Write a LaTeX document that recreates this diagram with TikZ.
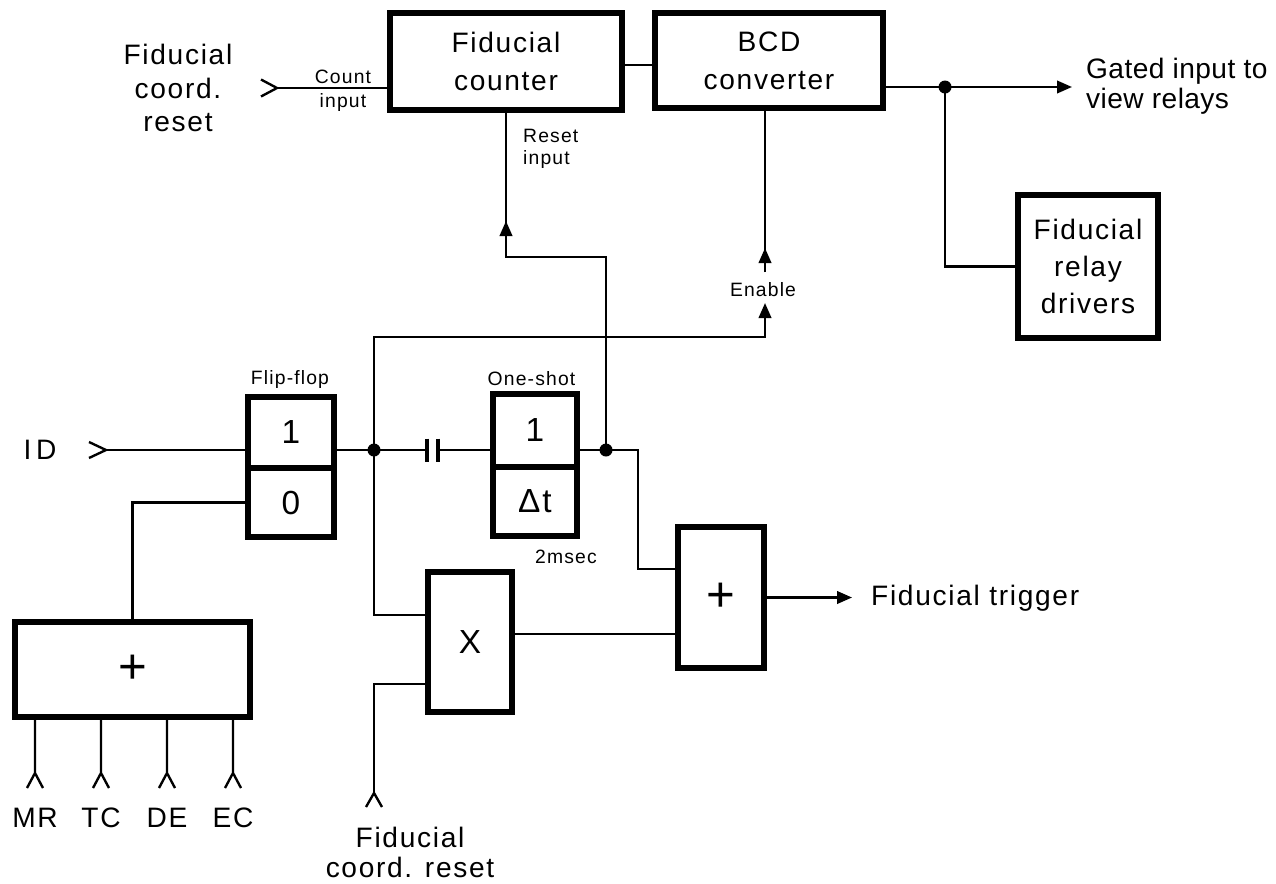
\documentclass[tikz,border=0pt]{standalone}
\usepackage{fontspec}
\setmainfont{Liberation Sans}[LetterSpace=6]
\usetikzlibrary{arrows.meta,positioning,calc}

\begin{document}
\begin{tikzpicture}[
      box/.style={rectangle,draw,line width=2.9pt,outer sep=0pt,inner sep=2pt,
                  align=center,font=\fontsize{16}{21.5}\selectfont},
      cell/.style={box,font=\fontsize{19}{19}\selectfont},
      wire/.style={line width=1.35pt},
      arr/.style={wire,-{Triangle[width=0.25cm,length=0.3cm]}},
      big/.style={align=center,font=\fontsize{16}{19}\selectfont},
      small/.style={align=center,font=\fontsize{11}{13}\selectfont}]
    \useasboundingbox (0,0) rectangle (25.52,-17.66);

    % counter chain on top
    \node[box,minimum width=4.64cm,minimum height=1.94cm] (cnt) at (10.12,-1.23) {Fiducial\\counter};
    \node[box,minimum width=4.56cm,minimum height=1.90cm] (bcd) at (15.38,-1.21) {BCD\\converter};
    \node[box,minimum width=2.80cm,minimum height=2.86cm,font=\fontsize{16}{21}\selectfont] (drv) at (21.76,-5.33) {Fiducial\\relay\\drivers};

    % flip-flop and one-shot
    \node[cell,minimum width=1.72cm,minimum height=1.42cm] (ff1) at (5.82,-8.65) {1};
    \node[cell,minimum width=1.72cm,minimum height=1.38cm,below=0pt of ff1] (ff0) {0};
    \node[cell,minimum width=1.68cm,minimum height=1.46cm] (os1) at (10.70,-8.61) {1};
    \node[cell,minimum width=1.68cm,minimum height=1.38cm,below=0pt of os1] (osd) {Δt};

    % gates
    \node[cell,minimum width=4.70cm,minimum height=1.90cm,font=\fontsize{28}{28}\selectfont] (orb) at (2.65,-13.39) {+};
    \node[cell,minimum width=1.68cm,minimum height=2.80cm] (xg) at (9.40,-12.84) {X};
    \node[cell,minimum width=1.72cm,minimum height=2.82cm,font=\fontsize{28}{28}\selectfont] (trig) at (14.42,-11.95) {+};

    % labels
    \node[big,font=\fontsize{16}{19}\selectfont] (fcl) at (3.56,-1.76) {Fiducial\\coord.\\reset};
    \node[small,font=\fontsize{11}{13.6}\selectfont] (cntl) at (6.86,-1.82) {Count\\input};
    \node[small,align=left,anchor=west,font=\fontsize{11}{12.5}\selectfont] (rsl) at (10.34,-2.98) {Reset\\input};
    \node[small] (enl) at (15.26,-5.80) {Enable};
    \node[small] (ffl) at (5.80,-7.58) {Flip-flop};
    \node[small] (osl) at (10.63,-7.58) {One-shot};
    \node[small] (msl) at (11.32,-11.14) {2msec};
    \node[big] (idl) at (0.80,-9.0) {I\,D};
    \node[big,align=left,anchor=west,font=\fontsize{16}{17}\selectfont\addfontfeature{LetterSpace=1.5}] (gtl) at (21.60,-1.72) {Gated input to\\view relays};
    \node[big,anchor=west] (trl) at (17.30,-11.96) {Fiducial trigger};
    \node[big,font=\fontsize{16}{17}\selectfont] (fcb) at (8.20,-17.04) {Fiducial\\coord. reset};

    % junctions and loose ends
    \coordinate (cin) at (5.54,-1.76);
    \coordinate (gd) at (18.90,-1.74);
    \coordinate (gout) at (21.44,-1.74);
    \coordinate (rs) at (10.12,-5.14);
    \coordinate (en) at (15.30,-5.44);
    \coordinate (ent) at (15.30,-6.06);
    \coordinate (enb) at (15.30,-6.74);
    \coordinate (idin) at (2.12,-9.0);
    \coordinate (fj) at (7.48,-9.0);
    \coordinate (c1) at (8.54,-9.0);
    \coordinate (c2) at (8.76,-9.0);
    \coordinate (oj) at (12.12,-9.0);
    \coordinate (tk) at (12.76,-11.38);
    \coordinate (tout) at (17.04,-11.95);
    \coordinate (fcr) at (7.48,-15.86);

    % top row
    \draw[wire] (cin) -- (cin -| cnt.west);
    \draw[wire] (cin) -- ++(-0.32,0.17) (cin) -- ++(-0.32,-0.17);
    \draw[wire] ([yshift=-0.07cm]cnt.east) -- ([yshift=-0.07cm]cnt.east -| bcd.west);
    \draw[wire] (gd -| bcd.east) -- (gd);
    \draw[arr] (gd) -- (gout);
    \draw[wire] (gd) |- (drv.west);

    % reset and enable feedback
    \draw[wire] (oj) |- (rs) -- (cnt.south);
    \draw[arr] (rs) -- ++(0,0.72);
    \draw[wire] (en) -- (en |- bcd.south);
    \draw[arr] (en) -- ++(0,0.48);
    \draw[arr] (fj) |- (enb) -- (ent);

    % flip-flop side
    \draw[wire] (idin) -- (idin -| ff1.west);
    \draw[wire] (idin) -- ++(-0.34,0.16) (idin) -- ++(-0.34,-0.16);
    \draw[wire] (fj -| ff1.east) -- (fj);
    \draw[wire] (ff0.west) -| (orb.north);
    \foreach \lab/\x in {MR/0.70,TC/2.02,DE/3.34,EC/4.66}{
      \coordinate (leg\lab) at (\x,-15.46);
      \draw[wire] (leg\lab |- orb.south) -- (leg\lab) -- ++(-0.16,-0.3) (leg\lab) -- ++(0.16,-0.3);
      \node[big] (l\lab) at (\x,-16.36) {\lab};
    }

    % capacitor into one-shot
    \draw[wire] (fj) -- (c1);
    \draw[wire] (c2) -- (c2 -| os1.west);
    \draw[line width=2pt] (c1) ++(0,0.23) -- ++(0,-0.46) (c2) ++(0,0.23) -- ++(0,-0.46);
    \draw[wire] (oj -| os1.east) -- (oj);
    \draw[wire] (oj) -| (tk) -- (tk -| trig.west);

    % and gate / trigger
    \draw[wire] (fj) |- ([yshift=0.54cm]xg.west);
    \draw[wire] (fcr) |- ([yshift=-0.84cm]xg.west);
    \draw[wire] (fcr) -- ++(-0.16,-0.28) (fcr) -- ++(0.16,-0.28);
    \draw[wire] ([yshift=0.16cm]xg.east) -- ([yshift=0.16cm]xg.east -| trig.west);
    \draw[arr] (trig.east) -- (tout);

    \foreach \p in {gd,fj,oj} \fill (\p) circle (0.13);
  \end{tikzpicture}
\end{document}
